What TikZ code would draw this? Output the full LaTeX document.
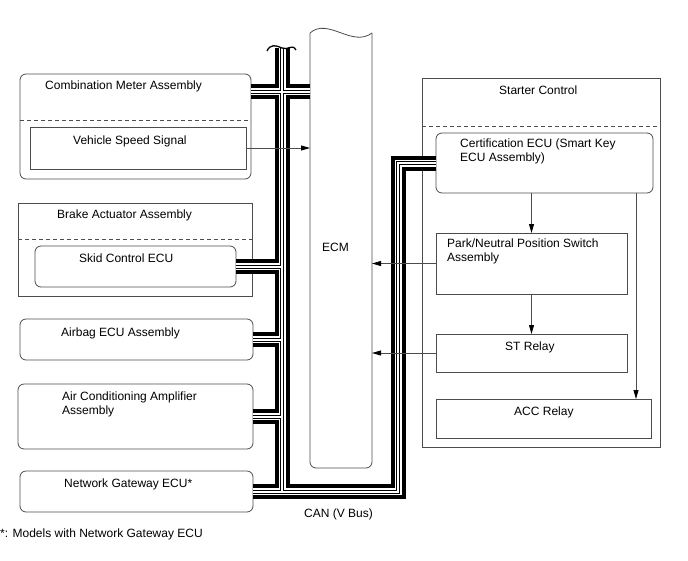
\documentclass[tikz,border=0pt]{standalone}
\usepackage{fontspec}
\setmainfont{Liberation Sans}
\usetikzlibrary{arrows.meta}
\definecolor{edge}{gray}{0.3}
\newcommand{\canpath}{(bustop) -- (bustop |- gateway.east)
  (meterbus) -- (meterbus -| ecm.west)
  (skid.east) -- (skid.east -| bustop)
  (airbag.east) -- (airbag.east -| bustop)
  (aircon.east) -- (aircon.east -| bustop)
  (gateway.east) -- (gateway.east -| busright) -- (busright |- cert.west) -- (cert.west)}

\begin{document}
\begin{tikzpicture}[x=1pt, y=-1pt,
  box/.style={draw=edge, line width=0.8pt, anchor=north west, inner sep=0pt, outer sep=0pt},
  rbox/.style={box, rounded corners=6pt},
  lbl/.style={anchor=north west, inner sep=0pt, align=left, font=\fontsize{12}{14}\selectfont},
  sep/.style={draw=edge, line width=0.7pt, dash pattern=on 4pt off 3pt},
  sig/.style={draw=edge, line width=0.8pt, -{Triangle[length=9pt,width=5pt,color=black]}}]
\useasboundingbox (0,0) rectangle (688,560);

\node[rbox, minimum width=231pt, minimum height=105pt] (meter) at (20,74) {};
\node[box, minimum width=216pt, minimum height=42pt] (vss) at (30,127) {};
\node[box, minimum width=234pt, minimum height=93pt] (brake) at (18,203) {};
\node[rbox, minimum width=201pt, minimum height=41pt] (skid) at (35,246) {};
\node[rbox, minimum width=233pt, minimum height=41pt] (airbag) at (20,319) {};
\node[rbox, minimum width=235pt, minimum height=65pt] (aircon) at (18,384) {};
\node[rbox, minimum width=233pt, minimum height=41pt] (gateway) at (20,471) {};
\node[box, minimum width=238pt, minimum height=369pt] (starter) at (422,78) {};
\node[rbox, minimum width=217pt, minimum height=60pt] (cert) at (436,133) {};
\node[box, minimum width=191pt, minimum height=61pt] (park) at (436,233) {};
\node[box, minimum width=191pt, minimum height=38pt] (strelay) at (436,334) {};
\node[box, minimum width=215pt, minimum height=39pt] (accrelay) at (436,399) {};
\node[anchor=north west, inner sep=0pt, outer sep=0pt, minimum width=62pt, minimum height=435pt] (ecm) at (310,33) {};

\draw[sep] ([yshift=-46pt]meter.north west) -- ([yshift=-46pt]meter.north east);
\draw[sep] ([yshift=-36pt]brake.north west) -- ([yshift=-36pt]brake.north east);
\draw[sep] ([yshift=-48pt]starter.north west) -- ([yshift=-48pt]starter.north east);

\draw[edge, line width=0.8pt, rounded corners=6pt] (ecm.north west) -- (ecm.south west) -- (ecm.south east) -- (ecm.north east);
\draw[edge, line width=0.8pt] (ecm.north west) .. controls (328,17) and (352,48) .. (ecm.north east);

\node[lbl] (meterlbl) at (45,80.5) {Combination Meter Assembly};
\node[lbl] (vsslbl) at (73,135.5) {Vehicle Speed Signal};
\node[lbl] (brakelbl) at (57,209.5) {Brake Actuator Assembly};
\node[lbl] (skidlbl) at (79,253.5) {Skid Control ECU};
\node[lbl] (airbaglbl) at (61,327.5) {Airbag ECU Assembly};
\node[lbl] (airconlbl) at (62,391.5) {Air Conditioning Amplifier\\Assembly};
\node[lbl] (gatewaylbl) at (64,478.5) {Network Gateway ECU*};
\node[lbl] (notelbl) at (0,528.5) {*: Models with Network Gateway ECU};
\node[lbl] (canlbl) at (304,508.5) {CAN (V Bus)};
\node[lbl] (ecmlbl) at (322,242.5) {ECM};
\node[lbl] (starterlbl) at (499,85.5) {Starter Control};
\node[lbl] (certlbl) at (460,138.5) {Certification ECU (Smart Key\\ECU Assembly)};
\node[lbl] (parklbl) at (447,238.5) {Park/Neutral Position Switch\\Assembly};
\node[lbl] (stlbl) at (505,341.5) {ST Relay};
\node[lbl] (acclbl) at (514,406.5) {ACC Relay};

\coordinate (bustop) at (282,48);
\coordinate (busright) at (398,0);
\coordinate (meterbus) at ([yshift=-17.5pt]meter.north east);
\draw[line width=15pt] \canpath;
\draw[white, line width=7pt] \canpath;
\draw[line width=4pt] \canpath;
\draw[white, line width=2pt] \canpath;
\draw[line width=1.3pt] (267,51) .. controls (270,44) and (276,45) .. (282,48) .. controls (288,51) and (292,43) .. (296,50);

\draw[sig] (vss.east) -- (vss.east -| ecm.west);
\draw[sig] (park.west) -- (park.west -| ecm.east);
\draw[sig] (strelay.west) -- (strelay.west -| ecm.east);
\draw[sig] (park.north |- cert.south) -- (park.north);
\draw[sig] (park.south) -- (strelay.north);
\coordinate (certacc) at ([xshift=-17pt]cert.south east);
\draw[sig] (certacc) -- (certacc |- accrelay.north);
\end{tikzpicture}
\end{document}
